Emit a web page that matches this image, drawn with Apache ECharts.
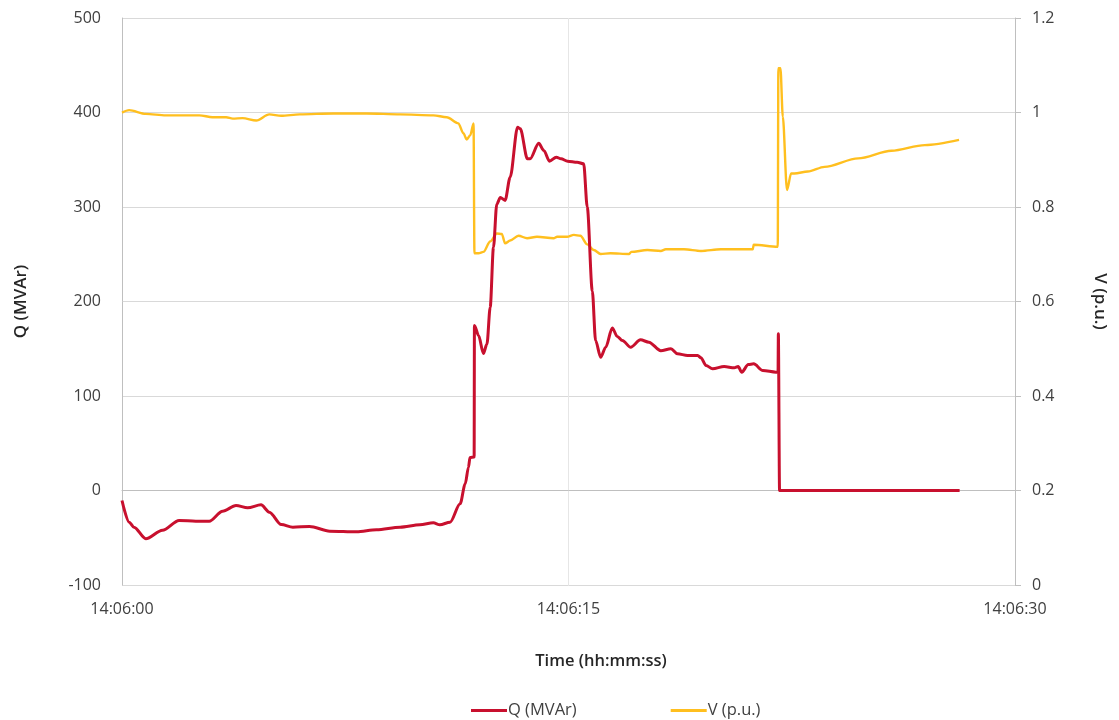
<!DOCTYPE html>
<html>
<head>
<meta charset="utf-8">
<script src="https://cdn.jsdelivr.net/npm/echarts@6/dist/echarts.min.js"></script>
<style>
  html, body { margin: 0; padding: 0; background: #fff; }
  #chart { width: 1119px; height: 720px; }
</style>
</head>
<body>
<div id="chart"></div>
<script>
// time in seconds after 14:06:00
const qTime = [0, 0.24, 0.40, 0.80, 1.36, 1.92, 2.48, 2.93, 3.38, 3.83, 4.22, 4.67, 4.95, 5.35, 5.74, 6.30, 6.98, 7.88, 8.55, 9.34, 10.01, 10.46, 10.68, 11.02, 11.36, 11.53, 11.64, 11.69, 11.83, 11.84, 11.98, 12.14, 12.26, 12.37, 12.48, 12.59, 12.71, 12.87, 13.04, 13.29, 13.38, 13.62, 13.71, 14.00, 14.17, 14.36, 14.59, 14.75, 14.97, 15.29, 15.51, 15.63, 15.80, 15.91, 16.08, 16.25, 16.47, 16.64, 16.81, 17.09, 17.42, 17.70, 18.10, 18.44, 18.66, 19.00, 19.34, 19.45, 19.62, 19.84, 20.23, 20.57, 20.70, 20.82, 21.04, 21.22, 21.53, 21.97, 22.04, 22.05, 22.09, 28.14]
const qValues = [-10.6, -33.5, -38.8, -51, -42, -31.7, -32.5, -32.5, -21.9, -15.9, -18.3, -15.2, -22.9, -36, -38.8, -38, -43, -43.7, -41.6, -38.8, -36.3, -34.2, -36.3, -33.5, -14, 7, 24.7, 35, 35.5, 174.6, 164, 145, 155, 194, 257.5, 303, 310, 307, 331.5, 384.5, 382.7, 351, 351, 367.5, 359.8, 348.5, 352.7, 351, 348.5, 347.4, 345.7, 300, 211, 158.7, 141, 151.6, 172, 163, 158.7, 151.6, 159.4, 157, 148, 150, 144.6, 142.9, 142.9, 140.4, 132.3, 128.8, 131.2, 129.8, 131.2, 125.2, 133.3, 134, 127, 125.2, 125, 165.8, 0, 0]

const vTime = [0, 0.24, 0.80, 1.47, 2.60, 3.04, 3.50, 3.72, 4.05, 4.51, 4.95, 5.35, 5.97, 7.09, 8.21, 9.34, 10.46, 10.91, 11.30, 11.47, 11.58, 11.70, 11.81, 11.84, 11.98, 12.14, 12.37, 12.59, 12.76, 12.87, 13.04, 13.32, 13.61, 13.94, 14.50, 14.62, 14.95, 15.18, 15.40, 15.63, 15.85, 16.08, 16.41, 17.03, 17.11, 17.65, 18.10, 18.27, 18.88, 19.45, 20.12, 21.19, 21.22, 22.03, 22.05, 22.12, 22.20, 22.34, 22.48, 22.59, 23.04, 23.60, 24.73, 25.85, 26.97, 28.12]
const vValues = [0.9996, 1.005, 0.997, 0.994, 0.994, 0.990, 0.990, 0.987, 0.988, 0.983, 0.996, 0.993, 0.996, 0.998, 0.998, 0.996, 0.994, 0.990, 0.977, 0.956, 0.943, 0.952, 0.977, 0.702, 0.702, 0.705, 0.727, 0.744, 0.743, 0.723, 0.729, 0.739, 0.734, 0.737, 0.734, 0.737, 0.737, 0.741, 0.739, 0.721, 0.709, 0.7005, 0.702, 0.7005, 0.705, 0.709, 0.707, 0.7105, 0.7105, 0.707, 0.7105, 0.7105, 0.72, 0.716, 1.0935, 1.0935, 0.991, 0.836, 0.871, 0.871, 0.875, 0.885, 0.903, 0.919, 0.931, 0.942]

const qTicks = [-100, 500, 100]   // min, max, step
const vTicks = [0, 1.2, 0.2]
const timeTicks = [0, 30, 15]

const pad = n => (n < 10 ? '0' : '') + n
const fmtTime = v => '14:06:' + pad(Math.round(v))

const chart = echarts.init(document.getElementById('chart'))
const font = '"Open Sans", "Noto Sans", sans-serif'

chart.setOption({
  animation: false,
  textStyle: {fontFamily: font},
  color: ['#C8102E', '#FFBF1F'],
  title: {
    text: 'Time (hh:mm:ss)',
    left: 596,
    top: 648,
    textAlign: 'center',
    textStyle: {fontFamily: font, fontSize: 16.5, fontWeight: 600, color: '#262626'}
  },
  legend: {
    left: 466,
    top: 697,
    itemWidth: 36,
    itemHeight: 3,
    itemGap: 94,
    icon: 'rect',
    textStyle: {fontFamily: font, fontSize: 16.5, color: '#404040', padding: [0, 0, 0, -4]},
    data: ['Q (MVAr)', 'V (p.u.)']
  },
  grid: {left: 122, right: 104, top: 18, bottom: 135},
  xAxis: {
    type: 'value',
    min: timeTicks[0],
    max: timeTicks[1],
    interval: timeTicks[2],
    axisLine: {show: true, lineStyle: {color: '#bfbfbf'}},
    axisTick: {show: false},
    axisLabel: {formatter: fmtTime, fontSize: 16, color: '#404040', margin: 16},
    splitLine: {show: true, lineStyle: {color: '#e6e6e6'}}
  },
  yAxis: [
    {
      type: 'value',
      name: 'Q (MVAr)',
      nameLocation: 'middle',
      nameGap: 92,
      nameRotate: 90,
      nameTextStyle: {fontSize: 17, fontWeight: 600, color: '#262626'},
      min: qTicks[0],
      max: qTicks[1],
      interval: qTicks[2],
      axisLine: {show: true, lineStyle: {color: '#bfbfbf'}},
      axisTick: {show: false},
      axisLabel: {fontSize: 16, color: '#404040', margin: 21},
      splitLine: {lineStyle: {color: '#d9d9d9'}}
    },
    {
      type: 'value',
      name: 'V (p.u.)',
      nameLocation: 'middle',
      nameGap: 76,
      nameRotate: -90,
      nameTextStyle: {fontSize: 17, fontWeight: 600, color: '#262626'},
      min: vTicks[0],
      max: vTicks[1],
      interval: vTicks[2],
      axisLine: {show: true, lineStyle: {color: '#bfbfbf'}},
      axisTick: {show: true, length: 6, lineStyle: {color: '#bfbfbf'}},
      axisLabel: {fontSize: 16, color: '#404040', margin: 17},
      splitLine: {show: false}
    }
  ],
  series: [
    {
      name: 'Q (MVAr)',
      type: 'line',
      yAxisIndex: 0,
      showSymbol: false,
      smooth: 0.3,
      smoothMonotone: 'x',
      lineStyle: {width: 3},
      data: qTime.map((t, i) => [t, qValues[i]]),
      z: 3
    },
    {
      name: 'V (p.u.)',
      type: 'line',
      yAxisIndex: 1,
      showSymbol: false,
      smooth: 0.3,
      smoothMonotone: 'x',
      lineStyle: {width: 2.4},
      data: vTime.map((t, i) => [t, vValues[i]]),
      z: 2
    }
  ]
})
</script>
</body>
</html>
